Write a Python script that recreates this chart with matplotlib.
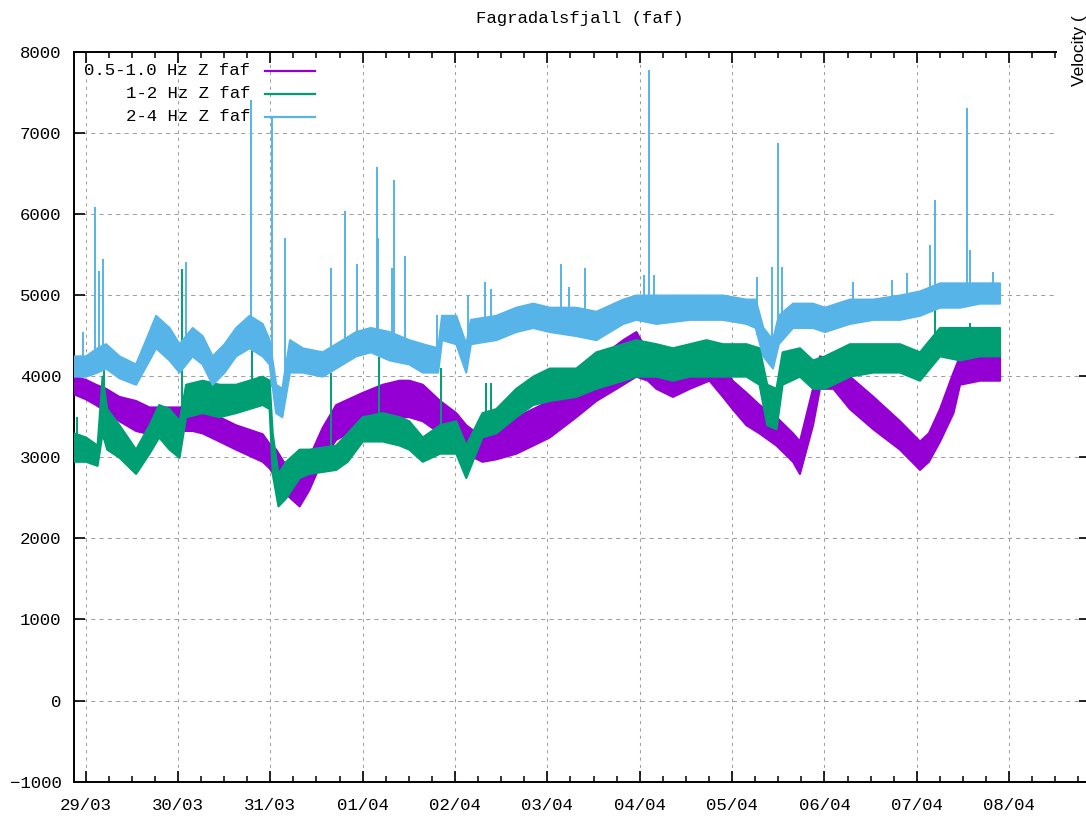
import matplotlib
matplotlib.use("Agg")
import matplotlib.pyplot as plt
import matplotlib.dates as mdates
from matplotlib.patches import Rectangle
import numpy as np
import pandas as pd

START = pd.Timestamp("2021-03-29 00:00")
STATION = "Fagradalsfjall (faf)"
UNIT_LABEL = "Velocity ("

# tremor band envelopes: hours after 29/03 00:00, lower/upper edge of the noisy trace
purple_hours = [-3, 0, 2.6, 5.2, 8.7, 13, 16.5, 21.7, 24.3, 27.7, 30.3, 34.7, 39, 45.9, 47.7, 49.4,
                52, 55.5, 58, 61.5, 65, 71.9, 77.1, 81.5, 84, 87.5, 92, 96.2, 98.8, 103, 106.6,
                111.8, 116.2, 120.5, 127.4, 132.6, 139.6, 143, 146, 148.2, 152.5, 156.9, 162,
                165.5, 168, 171.6, 175, 179.4, 183.7, 185.5, 188.9, 190.7, 194.2, 198.5, 204.6,
                211.5, 216.7, 219, 221.9, 225.4, 227.1, 232.3, 237.5]
purple_low = [3780, 3720, 3650, 3570, 3450, 3330, 3290, 3300, 3330, 3330, 3300, 3200, 3100, 2950,
              2870, 2750, 2550, 2400, 2600, 2980, 3220, 3400, 3500, 3500, 3500, 3450, 3300, 3150,
              3050, 2950, 2980, 3050, 3150, 3250, 3500, 3700, 3900, 4000, 3950, 3850, 3750, 3850,
              3950, 3750, 3600, 3400, 3300, 3150, 2950, 2800, 3400, 3850, 3850, 3600, 3350, 3100,
              2850, 2950, 3200, 3550, 3900, 3950, 3950]
purple_high = [4000, 3960, 3900, 3850, 3750, 3700, 3620, 3620, 3620, 3650, 3560, 3500, 3400, 3290,
               3170, 3100, 2900, 2720, 3000, 3370, 3650, 3800, 3900, 3950, 3950, 3900, 3700, 3550,
               3400, 3250, 3300, 3500, 3600, 3700, 3950, 4200, 4450, 4550, 4300, 4250, 4150, 4250,
               4350, 4150, 3950, 3800, 3650, 3500, 3300, 3200, 3850, 4250, 4200, 4000, 3750, 3450,
               3200, 3300, 3600, 4050, 4250, 4250, 4300]

green_hours = [-3, 0, 3, 4.3, 5.5, 8.7, 13, 16.5, 19, 21.7, 24.3, 26, 30.3, 34.7, 39, 45.9, 47.7,
               48.5, 50, 52, 55.5, 58, 65, 68, 71.9, 77.1, 81.5, 84, 87.5, 92, 96.2, 98.8, 103,
               106.6, 111.8, 116.2, 120.5, 127.4, 132.6, 139.6, 143, 148.2, 152.5, 156.9, 161.2,
               165.5, 171.6, 175, 177, 179.4, 181, 185.5, 188.9, 192, 198.5, 204.6, 211.5, 216.7,
               221.9, 227.1, 232.3, 237.5]
green_low = [2950, 2950, 2900, 3300, 3100, 3000, 2800, 3050, 3250, 3100, 3000, 3500, 3550, 3500,
             3550, 3650, 3600, 2800, 2400, 2500, 2750, 2800, 2850, 2950, 3200, 3200, 3150, 3100,
             2950, 3050, 3050, 2750, 3250, 3300, 3500, 3650, 3700, 3750, 3850, 3950, 4000, 4000,
             3950, 4000, 4000, 4000, 4000, 3900, 3400, 3350, 3900, 4000, 3850, 3850, 4000, 4050,
             4050, 3950, 4250, 4200, 4250, 4250]
green_high = [3300, 3250, 3150, 4000, 3600, 3400, 3100, 3400, 3650, 3600, 3450, 3900, 3950, 3900,
              3900, 4000, 3950, 3300, 2800, 2950, 3100, 3100, 3150, 3300, 3500, 3550, 3500, 3450,
              3250, 3400, 3450, 3150, 3550, 3600, 3850, 4000, 4100, 4100, 4300, 4400, 4450, 4400,
              4350, 4400, 4450, 4400, 4400, 4350, 3900, 3850, 4300, 4350, 4200, 4250, 4400, 4400,
              4400, 4300, 4600, 4600, 4600, 4600]

blue_hours = [-3, 0, 3, 5.2, 8.7, 13, 16.5, 18.2, 21.7, 24.3, 27.7, 30.3, 32.9, 36, 39, 42.5,
              45.9, 47.7, 49.4, 51, 53, 56.3, 61.5, 65, 70.2, 74, 78.9, 84, 87.5, 91.5, 92.5,
              96.2, 98.8, 100, 106.6, 111.8, 116.2, 120.5, 127.4, 132.6, 139.6, 143, 148.2,
              156.9, 161.2, 165.5, 171.6, 174, 176, 178.5, 180, 183.7, 188.9, 192, 198.5, 204.6,
              211.5, 216.7, 221.9, 227.1, 232.3, 237.5]
blue_low = [4000, 4000, 4050, 4100, 3980, 3900, 4200, 4350, 4200, 4050, 4250, 4150, 3900, 4050,
            4250, 4350, 4250, 4150, 3550, 3500, 4050, 4050, 4000, 4100, 4250, 4300, 4200, 4150,
            4050, 4050, 4450, 4400, 4050, 4400, 4450, 4550, 4600, 4550, 4500, 4450, 4650, 4700,
            4650, 4700, 4700, 4700, 4650, 4600, 4250, 4100, 4400, 4600, 4600, 4550, 4650, 4700,
            4700, 4750, 4850, 4850, 4900, 4900]
blue_high = [4250, 4250, 4350, 4400, 4250, 4150, 4550, 4750, 4600, 4400, 4600, 4500, 4250, 4400,
             4600, 4750, 4650, 4450, 3900, 3850, 4450, 4350, 4300, 4400, 4550, 4600, 4550, 4450,
             4400, 4350, 4750, 4750, 4400, 4700, 4750, 4850, 4900, 4850, 4850, 4800, 4950, 5000,
             5000, 5000, 5000, 5000, 4950, 4950, 4600, 4450, 4750, 4900, 4900, 4850, 4950, 4950,
             5000, 5050, 5150, 5150, 5150, 5150]

# short bursts rising out of the bands (hour, peak value)
green_spike_hours = [-2.3, 4.8, 25.1, 43.2, 63.7, 76.3, 92.3, 104, 105.4, 175.5, 220.6, 229.7]
green_spike_peaks = [3500, 4080, 5320, 4570, 4040, 4240, 4100, 3920, 3920, 4370, 4860, 4650]

blue_spike_hours = [-0.7, 2.4, 3.5, 4.5, 26, 43.1, 48.5, 51.8, 63.7, 67.4, 70.5, 75.7, 76, 79.6,
                    80.2, 83, 91.3, 99.4, 103.7, 105.3, 123.5, 125.7, 129.8, 145.2, 146.4, 147.8,
                    174.5, 178.5, 179.8, 181, 199.5, 209.6, 213.5, 219.3, 220.8, 229, 229.9, 235.7]
blue_spike_peaks = [4550, 6080, 5300, 5450, 5410, 7400, 7200, 5700, 5330, 6030, 5380, 6580, 5700,
                    5330, 6420, 5480, 4750, 5000, 5160, 5080, 5380, 5100, 5330, 5250, 7780, 5250,
                    5220, 5350, 6880, 5350, 5160, 5180, 5270, 5620, 6170, 7310, 5550, 5280]

series_labels = ["0.5-1.0 Hz Z faf", "1-2 Hz Z faf", "2-4 Hz Z faf"]
series_colors = ["#9400d3", "#009e73", "#56b4e9"]

y_ticks = list(range(-1000, 8001, 1000))


def to_time(hours):
    return START + pd.to_timedelta(np.asarray(hours, dtype=float), unit="h")


def draw_band(ax, hours, low, high, color, spike_hours=None, spike_peaks=None):
    t = to_time(hours)
    ax.fill_between(t, low, high, color=color, linewidth=1.5, edgecolor=color, zorder=3)
    if spike_hours:
        base = np.interp(spike_hours, hours, low)
        ax.vlines(to_time(spike_hours), base, spike_peaks, color=color, linewidth=1.4, zorder=3)


mono = "Liberation Mono"
plt.rcParams["font.family"] = [mono, "DejaVu Sans Mono"]
plt.rcParams["font.size"] = 12.5

W, H = 1086, 819
fig = plt.figure(figsize=(W / 100, H / 100), dpi=100)
ax = fig.add_axes([74 / W, 1 - 781.7 / H, (1090 - 74) / W, (781.7 - 51.7) / H])

draw_band(ax, purple_hours, purple_low, purple_high, series_colors[0])
draw_band(ax, green_hours, green_low, green_high, series_colors[1], green_spike_hours, green_spike_peaks)
draw_band(ax, blue_hours, blue_low, blue_high, series_colors[2], blue_spike_hours, blue_spike_peaks)

ax.set_ylim(-1000, 8000)
ax.set_yticks(y_ticks)
ax.set_xlim(to_time([-3])[0], to_time([261])[0])
ax.xaxis.set_major_locator(mdates.DayLocator())
ax.xaxis.set_minor_locator(mdates.HourLocator(byhour=[6, 12, 18]))
ax.xaxis.set_major_formatter(mdates.DateFormatter("%d/%m"))

ax.grid(True, which="major", axis="y", color="#a0a0a0", linestyle=(0, (4, 4)), linewidth=0.75,
        zorder=1)
ax.grid(True, which="major", axis="x", color="#a0a0a0", linestyle=(0, (3, 4)), linewidth=0.75,
        zorder=1)
ax.set_axisbelow(True)
for s in ax.spines.values():
    s.set_linewidth(1.4)
ax.tick_params(which="major", direction="in", length=8, width=1.2, top=True, right=True,
               labelsize=12.5)
ax.tick_params(axis="x", which="major", pad=12)
ax.tick_params(axis="y", which="major", pad=9)
ax.tick_params(axis="x", which="minor", direction="in", length=4, width=1.1, top=True)

# key in the upper left corner, text first then the line sample
for i, (label, color) in enumerate(zip(series_labels, series_colors)):
    y = 1 - (70.7 + 23 * i - 51.7) / (781.7 - 51.7)
    ax.text((250 - 74) / (1090 - 74), y, label, transform=ax.transAxes, ha="right", va="center",
            fontsize=12.5, zorder=6)
    ax.plot([(265 - 74) / (1090 - 74), (315 - 74) / (1090 - 74)], [y, y], transform=ax.transAxes,
            color=color, linewidth=1.6, zorder=6, clip_on=False)

fig.text(580 / W, 1 - 18 / H, STATION, ha="center", va="center", fontsize=12.5)

# neighbouring panel strip on the right edge
fig.patches.append(Rectangle((1057 / W, 1 - 300 / H), (W - 1057) / W, 300 / H,
                             transform=fig.transFigure, facecolor="white", edgecolor="none",
                             zorder=10))
fig.text(1084 / W, 1 - 86 / H, UNIT_LABEL, rotation=90, rotation_mode="anchor", ha="left",
         va="baseline", fontsize=12.5, family=["Liberation Sans", "DejaVu Sans"], zorder=11)

fig.savefig("out.png", dpi=100)
